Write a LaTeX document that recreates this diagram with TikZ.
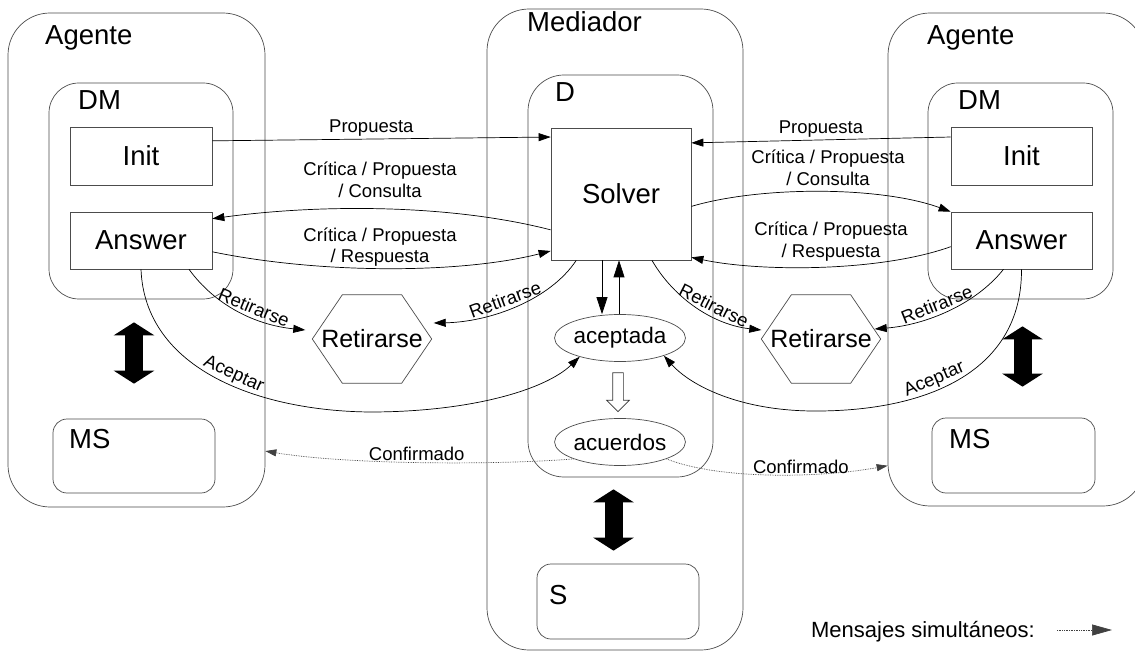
\documentclass[tikz,border=0pt]{standalone}
\usepackage{fontspec}
\setmainfont{Liberation Sans}
\usetikzlibrary{arrows.meta,shapes.geometric,shapes.arrows}

\begin{document}
\begin{tikzpicture}[x=1pt, y=-1pt,
      every node/.style={font=\fontsize{27.5}{31}\selectfont},
      outerbox/.style={rectangle, draw=black!70, line width=0.7pt, rounded corners=42pt},
      innerbox/.style={rectangle, draw=black!70, line width=0.7pt, rounded corners=30pt},
      storebox/.style={rectangle, draw=black!70, line width=0.7pt, rounded corners=14pt},
      procbox/.style={rectangle, draw=black!70, line width=0.7pt},
      statebox/.style={
        ellipse, draw=black!70, line width=0.7pt, inner sep=0pt,
        minimum width=120pt, minimum height=47pt,
        font=\fontsize{22.5}{26}\selectfont
      },
      hexbox/.style={
        rectangle, inner sep=0pt, minimum width=119pt, minimum height=88pt,
        font=\fontsize{25}{29}\selectfont
      },
      boxtitle/.style={anchor=base west, inner sep=0pt},
      msg/.style={font=\fontsize{18.5}{21.5}\selectfont, inner sep=2pt},
      flowarrow/.style={
        single arrow, draw=black!80, fill=white, line width=0.7pt,
        shape border rotate=270, inner sep=5pt,
        minimum height=39pt, single arrow head extend=6pt
      },
      arr/.style={-{Triangle[length=12pt,width=8pt]}, line width=0.7pt},
      varr/.style={-{Triangle[length=17pt,width=11pt]}, line width=0.7pt},
      darr/.style={-{Triangle[length=11pt,width=7pt]}, line width=0.7pt, black!75, densely dotted},
      bigarr/.style={{Triangle[length=13pt,width=40pt]}-{Triangle[length=13pt,width=40pt]}, line width=18pt}
    ]

    \fill[white] (0,0) rectangle (1135,652);
    \useasboundingbox (0,0) rectangle (1135,652);

    % ===== Outer containers =====
    \node[outerbox, minimum width=257pt, minimum height=494pt] (agL) at (136.5,260) {};
    \node[outerbox, minimum width=256pt, minimum height=641pt] (med) at (615,329.5) {};
    \node[outerbox, minimum width=257pt, minimum height=493pt] (agR) at (1016.5,259.5) {};

    % ===== Inner containers =====
    \node[innerbox, minimum width=184pt, minimum height=216pt] (dmL) at (141,191) {};
    \node[innerbox, minimum width=185pt, minimum height=216pt] (dmR) at (1020.5,191) {};
    \node[innerbox, rounded corners=36pt, minimum width=185pt, minimum height=402pt] (dbox) at (620.5,276) {};
    \node[storebox, minimum width=162pt, minimum height=74pt] (msL) at (134,456) {};
    \node[storebox, minimum width=163pt, minimum height=75pt] (msR) at (1013.5,455.5) {};
    \node[storebox, minimum width=162pt, minimum height=75pt] (sbox) at (618,601.5) {};

    % ===== Titles =====
    \node[boxtitle] (agLtitle) at (45,45) {Agente};
    \node[boxtitle] (agRtitle) at (927,45) {Agente};
    \node[boxtitle] (medtitle) at (527,32) {Mediador};
    \node[boxtitle] (dmLtitle) at (78,110) {DM};
    \node[boxtitle] (dmRtitle) at (958,110) {DM};
    \node[boxtitle] (dtitle) at (555,102) {D};
    \node[boxtitle] (msLtitle) at (69,448) {MS};
    \node[boxtitle] (msRtitle) at (949,448) {MS};
    \node[boxtitle] (stitle) at (549,604) {S};

    % ===== Components =====
    \node[procbox, minimum width=142pt, minimum height=58pt] (initL) at (141,156) {Init};
    \node[procbox, minimum width=142pt, minimum height=57pt] (ansL) at (141,240.5) {Answer};
    \node[procbox, minimum width=141pt, minimum height=58pt] (initR) at (1021.5,156) {Init};
    \node[procbox, minimum width=141pt, minimum height=57pt] (ansR) at (1021.5,240.5) {Answer};
    \node[procbox, minimum width=140pt, minimum height=132pt] (solver) at (621,194) {Solver};
    \node[statebox] (acep) at (620,338) {aceptada};
    \node[statebox, minimum width=118pt] (acu) at (620,442) {acuerdos};
    \node[flowarrow] (flow) at (618,389.5) {};

    \node[hexbox] (hexL) at (372,339) {Retirarse};
    \node[hexbox] (hexR) at (821,339) {Retirarse};
    \foreach \h in {hexL,hexR}
      \draw[draw=black!70, line width=0.7pt] (\h.west) -- ([xshift=30pt]\h.north west)
        -- ([xshift=-30pt]\h.north east) -- (\h.east) -- ([xshift=-30pt]\h.south east)
        -- ([xshift=30pt]\h.south west) -- cycle;

    % ===== Messages: left agent and solver =====
    \draw[arr] (initL.12) -- (solver.141) node[msg, pos=0.47, above] {Propuesta};
    \draw[arr] (solver.207) .. controls (450,204) and (320,204) .. (ansL.17);
    \node[msg, align=center] (lblCL) at (380,180) {Crítica / Propuesta\\/ Consulta};
    \draw[arr] (ansL.-9) .. controls (320,274) and (460,274) .. (solver.219);
    \node[msg, align=center] (lblRL) at (380,247) {Crítica / Propuesta\\/ Respuesta};

    % ===== Messages: right agent and solver =====
    \draw[arr] (initR.165) -- (solver.36) node[msg, pos=0.5, above] {Propuesta};
    \draw[arr] (solver.-10) .. controls (760,186) and (880,186) .. (ansR.north west);
    \node[msg, align=center] (lblCR) at (828,168) {Crítica / Propuesta\\/ Consulta};
    \draw[arr] (ansR.185) .. controls (880,272) and (760,272) .. (solver.-42);
    \node[msg, align=center] (lblRR) at (831,241.5) {Crítica / Propuesta\\/ Respuesta};

    % ===== Withdrawals =====
    \draw[arr] (ansL.-31) .. controls (215,305) and (255,325) .. ([xshift=-7pt,yshift=9pt]hexL.west)
      node[msg, pos=0.6, sloped, above, inner sep=3pt] {Retirarse};
    \draw[arr] (solver.236) .. controls (550,300) and (490,322) .. ([xshift=2pt,yshift=16pt]hexL.east)
      node[msg, pos=0.55, sloped, above, inner sep=3pt] {Retirarse};
    \draw[arr] (solver.-65) .. controls (675,300) and (715,325) .. ([yshift=9pt]hexR.west)
      node[msg, pos=0.6, sloped, above, inner sep=3pt] {Retirarse};
    \draw[arr] (ansR.238) .. controls (975,305) and (925,325) .. ([xshift=-6pt,yshift=10pt]hexR.east)
      node[msg, pos=0.55, sloped, above, inner sep=3pt] {Retirarse};

    % ===== Acceptance =====
    \draw[arr] (ansL.south) .. controls (145,370) and (260,411) .. (370,412)
      node[msg, pos=0.55, sloped, above] {Aceptar}
      .. controls (470,412) and (545,390) .. (acep.205);
    \draw[arr] (ansR.south) .. controls (1022,370) and (930,410) .. (820,411)
      node[msg, pos=0.6, sloped, above] {Aceptar}
      .. controls (740,412) and (690,385) .. (acep.-22);
    \draw[varr] ([xshift=-19pt]solver.south) -- ([xshift=-18pt]acep.north);
    \draw[varr] ([xshift=-1pt]acep.north) -- ([xshift=-2pt]solver.south);

    % ===== Confirmations (simultaneous) =====
    \draw[darr] (acu.200) .. controls (500,465) and (350,465) .. (agL.-56)
      node[msg, pos=0.52, above, inner sep=1pt, black] {Confirmado};
    \draw[darr] (acu.-20) .. controls (720,480) and (820,478) .. (agR.238)
      node[msg, pos=0.62, above, inner sep=1pt, black] {Confirmado};

    % ===== Links between DM / D and their stores =====
    \draw[bigarr, shorten <=23pt, shorten >=35pt] (dmL.south -| msL.north) -- (msL.north);
    \draw[bigarr, shorten <=27pt, shorten >=31pt] ([xshift=2pt]dmR.south) -- ([xshift=2pt]dmR.south |- msR.north);
    \draw[bigarr, shorten <=12pt, shorten >=13pt] ([xshift=-7pt]dbox.south) -- ([xshift=-7pt]dbox.south |- sbox.north);

    % ===== Legend =====
    \node[anchor=base, inner sep=0pt, font=\fontsize{22}{26}\selectfont] (legend) at (923,637) {Mensajes simultáneos:};
    \coordinate (legS) at (1057,630);
    \coordinate (legE) at (1112,630);
    \draw[darr, -{Triangle[length=20pt,width=11pt]}] (legS) -- (legE);
  \end{tikzpicture}
\end{document}
